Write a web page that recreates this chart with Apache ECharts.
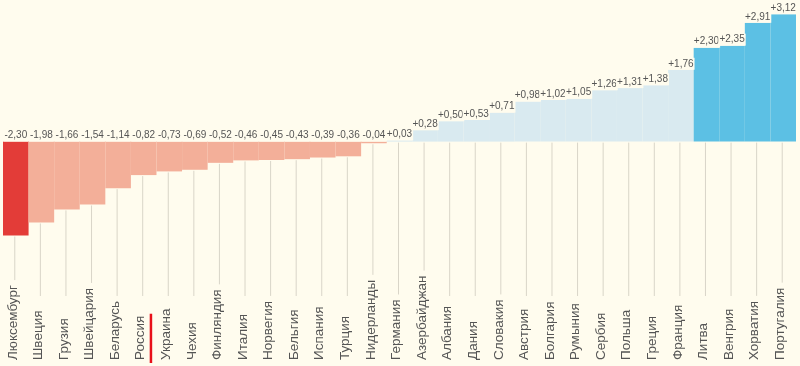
<!DOCTYPE html>
<html><head><meta charset="utf-8">
<script src="https://cdn.jsdelivr.net/npm/echarts@6/dist/echarts.min.js"></script>
<style>html,body{margin:0;padding:0;background:#fffcee}#c{width:800px;height:366px}</style>
</head><body><div id="c"></div>
<script>
const categories = ['Люксембург','Швеция','Грузия','Швейцария','Беларусь','Россия','Украина','Чехия','Финляндия','Италия','Норвегия','Бельгия','Испания','Турция','Нидерланды','Германия','Азербайджан','Албания','Дания','Словакия','Австрия','Болгария','Румыния','Сербия','Польша','Греция','Франция','Литва','Венгрия','Хорватия','Португалия'];
const values = [-2.30,-1.98,-1.66,-1.54,-1.14,-0.82,-0.73,-0.69,-0.52,-0.46,-0.45,-0.43,-0.39,-0.36,-0.04,0.03,0.28,0.50,0.53,0.71,0.98,1.02,1.05,1.26,1.31,1.38,1.76,2.30,2.35,2.91,3.12];
const highlighted = ['Россия'];

const BG = '#fffcee';
const FONT = '"Liberation Sans", Arial, sans-serif';
const CAT_FONT = '13.5px ' + FONT;
const VAL_FONT = '10px ' + FONT;

const ctx = document.createElement('canvas').getContext('2d');
function textW(t, f){ ctx.font = f; return ctx.measureText(t).width; }
function fmt(v){ return (v > 0 ? '+' : '') + v.toFixed(2).replace('.', ','); }
const minV = Math.min(...values);
function barColor(v){
  if (v === minV) return '#e33c38';
  if (v < 0) return '#f3af99';
  if (v >= 2) return '#5cc0e4';
  return '#d9eaf0';
}

const chart = echarts.init(document.getElementById('c'), null, {renderer:'canvas'});
chart.setOption({
  backgroundColor: BG,
  animation: false,
  grid: {left: 3, right: 4, top: 13, bottom: 8},
  xAxis: {type:'category', data: categories, show: false},
  yAxis: {type:'value', min: -5.3, max: 3.15, show: false},
  series: [
    {
      type: 'bar',
      barCategoryGap: '0%',
      data: values.map(v => ({value: v, itemStyle: {color: barColor(v)}})),
      z: 2
    },
    {
      type: 'custom',
      z: 3,
      data: values.map((v, i) => [i, v]),
      renderItem: function(params, api){
        const i = api.value(0), v = api.value(1);
        const name = categories[i];
        const zero = api.coord([i, 0]);
        const cx = zero[0];
        const barEnd = api.coord([i, Math.min(v, 0)])[1];
        const labelTop = api.coord([i, Math.max(v, 0)])[1];
        const textBottom = 360;
        const w = textW(name, CAT_FONT);
        const lineEnd = Math.min(296, textBottom - w - 5);
        const children = [
          {type:'line', shape:{x1: cx - 1, y1: barEnd + 1, x2: cx - 1, y2: lineEnd},
           style:{stroke:'#d9d5c8', lineWidth: 1}},
          {type:'text', x: cx - 3, y: textBottom, rotation: Math.PI/2,
           style:{text: name, font: CAT_FONT, fill:'#555', align:'left', verticalAlign:'middle'}},
          {type:'text', x: cx, y: labelTop, z2: 10 + i,
           style:{text: fmt(v), font: VAL_FONT, fill:'#555', align:'center', verticalAlign:'bottom',
                  backgroundColor: BG, padding:[1,1,1,1]}}
        ];
        if (highlighted.includes(name)) {
          children.push({type:'rect', shape:{x: cx + 6, y: textBottom - w - 2, width: 2.5, height: w + 5},
            style:{fill:'#e8101a'}});
        }
        return {type:'group', children};
      }
    }
  ]
});
</script></body></html>
